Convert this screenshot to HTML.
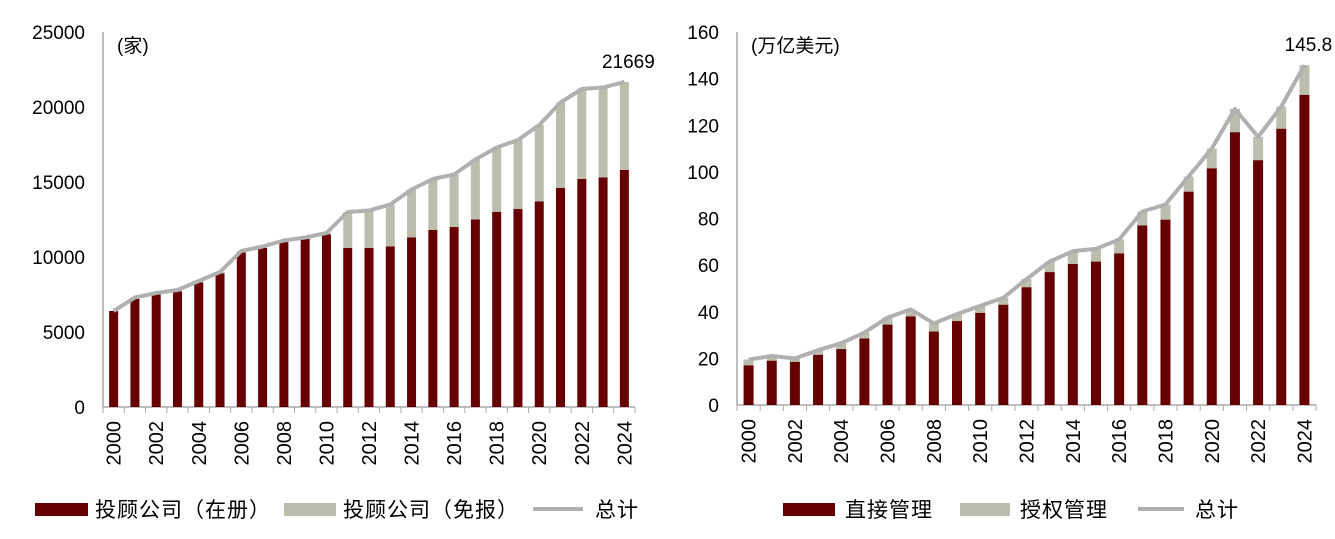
<!DOCTYPE html>
<html><head><meta charset="utf-8"><style>
body{margin:0;background:#fff;width:1335px;height:534px;overflow:hidden}
svg text{font-family:"Liberation Sans","Noto Sans CJK SC",sans-serif;fill:#000}
</style></head><body>
<svg id="c" width="1335" height="534"></svg>
<script>
const years=[2000,2001,2002,2003,2004,2005,2006,2007,2008,2009,2010,2011,2012,2013,2014,2015,2016,2017,2018,2019,2020,2021,2022,2023,2024];
const leftRegistered=[6400,7200,7500,7700,8300,8900,10300,10600,11000,11200,11500,10600,10600,10700,11300,11800,12000,12500,13000,13200,13700,14600,15200,15300,15800];
const leftTotal=[6400,7300,7600,7800,8400,9000,10400,10700,11100,11300,11600,13000,13100,13500,14500,15200,15500,16500,17300,17800,18800,20300,21200,21300,21669];
const leftTicks=[0,5000,10000,15000,20000,25000];
const rightDirect=[17,19,18.5,21.5,24,28.5,34.5,38,31.5,36,39.5,43,50.5,57,60.5,61.5,65,77,79.5,91.5,101.5,117,105,118.5,133];
const rightTotal=[19.5,21,20,23.5,26.5,31,37.5,41,35,39,42.5,46,54,61.5,66,67,71,83,86,98,110,127,115,128,145.8];
const rightTicks=[0,20,40,60,80,100,120,140,160];
const NS='http://www.w3.org/2000/svg';
const svg=document.getElementById('c');
function mk(t,a,p){const e=document.createElementNS(NS,t);for(const k in a)e.setAttribute(k,a[k]);(p||svg).appendChild(e);return e;}
function chart(o){
  const g=mk('g',{});
  
  
  const n=years.length, slot=(o.x1-o.x0)/n;
  const y=v=>o.yb-(v/o.max)*(o.yb-o.yt);
  const xc=i=>o.x0+slot*(i+0.5);
  const ax=mk('line',{x1:o.x0,y1:o.yt,x2:o.x0,y2:o.yb,stroke:'#aaa','stroke-width':1.5},g);
  
  const bx=mk('line',{x1:o.x0,y1:o.yb,x2:o.x1,y2:o.yb,stroke:'#aaa','stroke-width':1.5},g);
  
  for(let i=0;i<=n;i++)mk('line',{x1:o.x0+slot*i,y1:o.yb,x2:o.x0+slot*i,y2:o.yb+6,stroke:'#aaa'},g);
  o.ticks.forEach(t=>{const e=mk('text',{x:o.x0-18,y:y(t)+7,'text-anchor':'end','font-size':19},g);e.textContent=t;
    });
  years.forEach((yr,i)=>{
    const a=mk('rect',{x:xc(i)-o.bw/2,y:y(o.tot[i]),width:o.bw,height:y(o.bot[i])-y(o.tot[i]),fill:'#bdbdad'},g);
    
    const b=mk('rect',{x:xc(i)-o.bw/2,y:y(o.bot[i]),width:o.bw,height:o.yb-y(o.bot[i]),fill:'#660000'},g);
    
    if(i%2==0){const t=mk('text',{transform:`translate(${xc(i)+7},${o.yb+14}) rotate(-90)`,'text-anchor':'end','font-size':20},g);t.textContent=yr;
      }
  });
  const l=mk('polyline',{points:o.tot.map((v,i)=>xc(i)+','+y(v)).join(' '),fill:'none',stroke:'#b0b0b0','stroke-width':4,'stroke-linejoin':'round'},g);
  
  const lab=mk('text',{x:xc(n-1)+4,y:y(o.tot[n-1])-14,'text-anchor':'middle','font-size':19},g);lab.textContent=o.tot[n-1];
  
  const u=mk('text',{x:o.x0+14,y:o.yt+20,'font-size':19},g);u.textContent=o.unit;
  
  o.leg.forEach((s,k)=>{
    const p=o.lpos[k];
    const lg=mk('g',{},g);
    if(k<2)mk('rect',{x:p[0],y:503,width:p[1],height:13,fill:k?'#bdbdad':'#660000'},lg);
    else mk('line',{x1:p[0],y1:509,x2:p[0]+p[1],y2:509,stroke:'#b0b0b0','stroke-width':4},lg);
    const t=mk('text',{x:p[2],y:517,'font-size':21,'letter-spacing':1},lg);t.textContent=s;
  });
}
chart({name:'left-chart',x0:103,x1:635,yt:32,yb:407,max:25000,ticks:leftTicks,bot:leftRegistered,tot:leftTotal,bw:9,unit:'(家)',
  leg:['投顾公司（在册）','投顾公司（免报）','总计'],lpos:[[35,53,95],[284,52,343],[533,50,595]]});
chart({name:'right-chart',x0:737,x1:1316,yt:32,yb:405,max:160,ticks:rightTicks,bot:rightDirect,tot:rightTotal,bw:10,unit:'(万亿美元)',
  leg:['直接管理','授权管理','总计'],lpos:[[783,52,845],[960,50,1020],[1138,46,1195]]});
</script>
</body></html>
